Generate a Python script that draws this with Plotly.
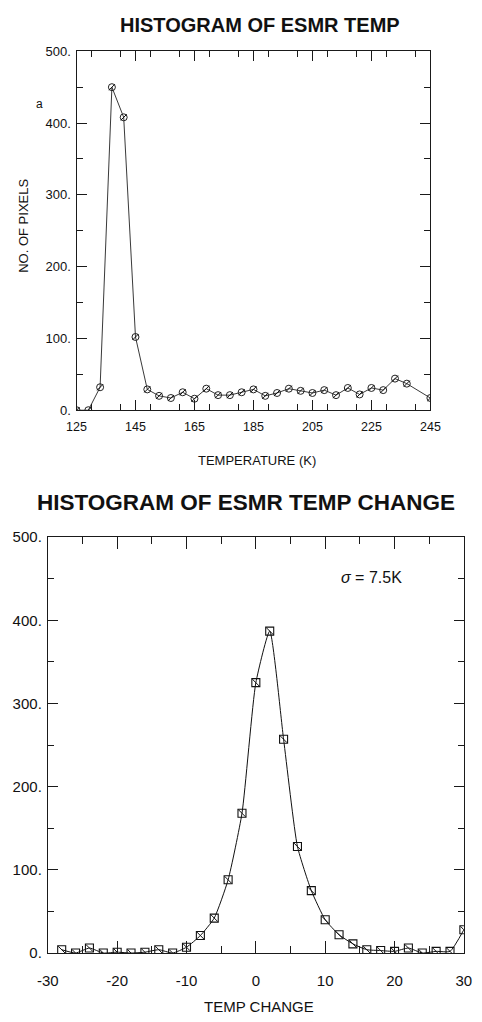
import plotly.graph_objects as go

# ESMR brightness temperature histogram (4 K bins)
temp_k = [125, 129, 133, 137, 141, 145, 149, 153, 157, 161, 165, 169, 173, 177, 181,
          185, 189, 193, 197, 201, 205, 209, 213, 217, 221, 225, 229, 233, 237, 245]
temp_counts = [0, 0, 32, 450, 408, 102, 29, 20, 17, 25, 16, 30, 21, 21, 25,
               29, 20, 24, 30, 27, 24, 28, 21, 31, 22, 31, 28, 44, 37, 17]

# Histogram of temperature change (2 K bins)
change_k = [-28, -26, -24, -22, -20, -18, -16, -14, -12, -10, -8, -6, -4, -2, 0,
            2, 4, 6, 8, 10, 12, 14, 16, 18, 20, 22, 24, 26, 28, 30]
change_counts = [4, 0, 6, 0, 1, 0, 1, 4, 0, 7, 21, 42, 88, 168, 325,
                 387, 257, 128, 75, 40, 22, 11, 4, 3, 2, 6, 0, 2, 2, 28]

# tick labels of the temperature-change axis (plain hyphen minus)
change_ticks = [-30, -20, -10, 0, 10, 20, 30]
change_tick_text = ["-30", "-20", "-10", "0", "10", "20", "30"]

W, H = 482, 1022
FONT = "Liberation Sans, Arial, Helvetica, sans-serif"
INK = "#111111"


def px(x):
    return x / W


def py(y):
    return 1 - y / H


fig = go.Figure()

# top panel: straight segments, open circles with a slash
fig.add_trace(go.Scatter(x=temp_k, y=temp_counts, xaxis="x", yaxis="y",
                         mode="lines+markers",
                         line=dict(color="#222222", width=0.9),
                         marker=dict(symbol="circle-open", size=7,
                                     line=dict(color=INK, width=1))))
fig.add_trace(go.Scatter(x=temp_k, y=temp_counts, xaxis="x", yaxis="y",
                         mode="markers",
                         marker=dict(symbol="line-ne", size=6,
                                     line=dict(color=INK, width=1))))

# bottom panel: smooth curve, boxed markers with a slash
fig.add_trace(go.Scatter(x=change_k, y=change_counts, xaxis="x2", yaxis="y2",
                         mode="lines+markers",
                         line=dict(color=INK, width=1, shape="spline", smoothing=0.5),
                         marker=dict(symbol="square-open", size=8,
                                     line=dict(color=INK, width=1.1))))
fig.add_trace(go.Scatter(x=change_k, y=change_counts, xaxis="x2", yaxis="y2",
                         mode="markers",
                         marker=dict(symbol="line-nw", size=7,
                                     line=dict(color=INK, width=1))))


def axis(rng, dtick, minor_dtick, ticklen, minor_len, fsize, domain, anchor, **kw):
    return dict(
        range=rng, dtick=dtick, domain=domain, anchor=anchor,
        showline=True, linecolor="#1a1a1a", linewidth=1, mirror="ticks",
        ticks="inside", ticklen=ticklen, tickwidth=1, tickcolor="#1a1a1a",
        minor=dict(ticks="inside", dtick=minor_dtick, ticklen=minor_len,
                   tickwidth=1, tickcolor="#1a1a1a", showgrid=False),
        showgrid=False, zeroline=False, fixedrange=True,
        tickfont=dict(family=FONT, size=fsize, color=INK), **kw)


fig.update_layout(
    width=W, height=H,
    margin=dict(l=0, r=0, t=0, b=0),
    paper_bgcolor="white", plot_bgcolor="white",
    showlegend=False,
    xaxis=axis([125, 245], 20, 10, 10, 6, 12.5, [px(68.5), px(438.5)], "y",
               tick0=125, ticklabelstandoff=5),
    yaxis=axis([0, 500], 100, 50, 10, 6, 13, [py(408), py(43)], "x",
               ticksuffix=".", ticklabelstandoff=2),
    xaxis2=axis([-30, 30], 10, 5, 12, 7, 15, [px(38.5), px(473.5)], "y2",
                tickmode="array", tickvals=change_ticks, ticktext=change_tick_text,
                ticklabelstandoff=14),
    yaxis2=axis([0, 500], 100, 50, 10, 6, 15, [py(960), py(537)], "x2",
                ticksuffix=".", ticklabelstandoff=2),
)

annotations = [
    dict(text="<b>HISTOGRAM OF ESMR TEMP</b>", x=px(260), y=py(16.5), size=20),
    dict(text="TEMPERATURE (K)", x=px(257), y=py(459), size=13),
    dict(text="a", x=px(30), y=py(97), size=12),
    dict(text="<b>HISTOGRAM OF ESMR TEMP CHANGE</b>", x=px(245.5), y=py(502), size=22.5),
    dict(text="TEMP CHANGE", x=px(259.5), y=py(1014), size=15),
    dict(text="<i>σ</i> = 7.5K", x=px(377), y=py(578), size=16),
]
for a in annotations:
    fig.add_annotation(text=a["text"], x=a["x"], y=a["y"], xref="paper", yref="paper",
                       showarrow=False, xanchor="center", yanchor="middle",
                       font=dict(family=FONT, size=a["size"], color=INK))

fig.add_annotation(text="NO. OF PIXELS", x=px(13), y=py(220), xref="paper", yref="paper",
                   showarrow=False, textangle=-90, xanchor="center", yanchor="middle",
                   font=dict(family=FONT, size=13, color=INK))

fig.write_html("out.html")
